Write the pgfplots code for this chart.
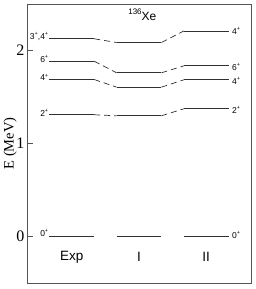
\documentclass[border=0pt]{standalone}
\usepackage{fontspec}
\setmainfont{Liberation Serif}
\newfontfamily\hv{Liberation Sans}
\usepackage{pgfplots}
\pgfplotsset{compat=1.18}
\definecolor{lev}{HTML}{303030}
\definecolor{frame}{HTML}{555555}
\newcommand{\spp}[1]{#1\raisebox{0.45em}{\fontsize{5.5}{5.5}\selectfont +}}
\begin{document}
\begin{tikzpicture}
\begin{axis}[
  at={(0,0)}, anchor=south west,
  scale only axis, width=224pt, height=279pt,
  xmin=0, xmax=10, ymin=-0.5, ymax=2.5,
  axis line style={frame, line width=0.9pt},
  xtick=\empty, ytick={0,1,2},
  tick align=inside, ytick pos=left,
  major tick length=6pt,
  tick style={frame, line width=0.7pt},
  yticklabel style={font=\fontsize{16}{16}\selectfont, xshift=1pt},
  /pgf/number format/assume math mode=true,
  ylabel={E (MeV)}, ylabel style={font=\fontsize{14.5}{14.5}\selectfont, yshift=-7pt},
  clip=false,
]
% levels Exp
\addplot[lev, line width=0.9pt] coordinates {(1,0) (3,0)};
\addplot[lev, line width=0.9pt] coordinates {(1,1.309) (3,1.309)};
\addplot[lev, line width=0.9pt] coordinates {(1,1.688) (3,1.688)};
\addplot[lev, line width=0.9pt] coordinates {(1,1.885) (3,1.885)};
\addplot[lev, line width=0.9pt] coordinates {(1,2.126) (3,2.126)};
% levels I
\addplot[lev, line width=0.9pt] coordinates {(4,0) (6,0)};
\addplot[lev, line width=0.9pt] coordinates {(4,1.298) (6,1.298)};
\addplot[lev, line width=0.9pt] coordinates {(4,1.606) (6,1.606)};
\addplot[lev, line width=0.9pt] coordinates {(4,1.760) (6,1.760)};
\addplot[lev, line width=0.9pt] coordinates {(4,2.086) (6,2.086)};
% levels II
\addplot[lev, line width=0.9pt] coordinates {(7,0) (9,0)};
\addplot[lev, line width=0.9pt] coordinates {(7,1.373) (9,1.373)};
\addplot[lev, line width=0.9pt] coordinates {(7,1.685) (9,1.685)};
\addplot[lev, line width=0.9pt] coordinates {(7,1.835) (9,1.835)};
\addplot[lev, line width=0.9pt] coordinates {(7,2.210) (9,2.210)};
% connectors
\pgfplotsset{conn/.style={lev, line width=0.7pt, dash pattern=on 6pt off 4pt}}
\addplot[conn] coordinates {(3,1.309) (4,1.298)};
\addplot[conn] coordinates {(3,1.688) (4,1.606)};
\addplot[conn] coordinates {(3,1.885) (4,1.760)};
\addplot[conn] coordinates {(3,2.126) (4,2.086)};
\addplot[conn] coordinates {(6,1.298) (7,1.373)};
\addplot[conn] coordinates {(6,1.606) (7,1.685)};
\addplot[conn] coordinates {(6,1.760) (7,1.835)};
\addplot[conn] coordinates {(6,2.086) (7,2.210)};
% labels
\tikzset{lab/.style={font=\hv\fontsize{8.5}{8.5}\selectfont, inner sep=1pt}}
\node[lab, anchor=east] at (axis cs:1,0.04) {\spp{0}};
\node[lab, anchor=east] at (axis cs:1,1.33) {\spp{2}};
\node[lab, anchor=east] at (axis cs:1,1.71) {\spp{4}};
\node[lab, anchor=east] at (axis cs:1,1.905) {\spp{6}};
\node[lab, anchor=east] at (axis cs:1,2.15) {\spp{3},\spp{4}};
\node[lab, anchor=west] at (axis cs:9.1,0.02) {\spp{0}};
\node[lab, anchor=west] at (axis cs:9.1,1.36) {\spp{2}};
\node[lab, anchor=west] at (axis cs:9.1,1.675) {\spp{4}};
\node[lab, anchor=west] at (axis cs:9.1,1.82) {\spp{6}};
\node[lab, anchor=west] at (axis cs:9.1,2.21) {\spp{4}};
\node[font=\hv\fontsize{13.5}{14}\selectfont] at (axis cs:2,-0.22) {Exp};
\node[font=\hv\fontsize{13.5}{14}\selectfont] at (axis cs:5,-0.22) {I};
\node[font=\hv\fontsize{13.5}{14}\selectfont] at (axis cs:8,-0.22) {II};
\node[font=\hv\fontsize{12}{12}\selectfont] at (axis cs:5.15,2.38) {\raisebox{0.5em}{\fontsize{8}{8}\selectfont 136}Xe};
\end{axis}
\pgfresetboundingbox
\path (-27pt,-6pt) rectangle (229pt,283pt);
\end{tikzpicture}
\end{document}
